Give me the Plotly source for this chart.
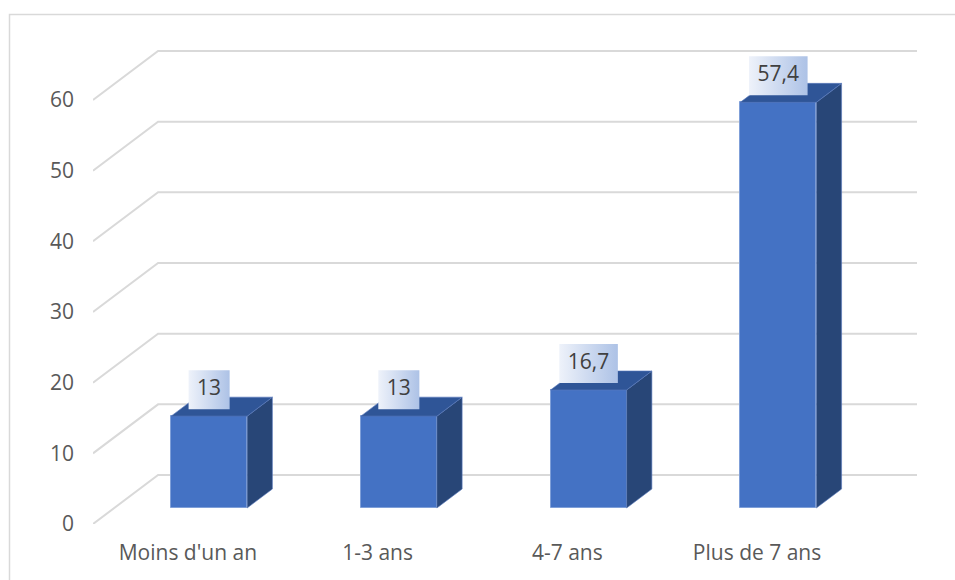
import plotly.graph_objects as go

# Data
categories = ["Moins d'un an", "1-3 ans", "4-7 ans", "Plus de 7 ans"]
values = [13, 13, 16.7, 57.4]
y_ticks = [0, 10, 20, 30, 40, 50, 60]

# Pseudo-3D geometry in axis units
PX_PER_X = 189.5          # pixels per category step
PX_PER_Y = 7.067          # pixels per value unit
WALL_DX = 65 / PX_PER_X   # floor depth, horizontal component
WALL_DY = 49 / PX_PER_Y   # floor depth, vertical component
FRONT = 16 / 49           # depth fraction of the bar front face
BACK = 35 / 49            # depth fraction of the bar back face
BAR_W = 76 / PX_PER_X

FRONT_COLOR = "#4472C4"
TOP_COLOR = "#2F5597"
SIDE_COLOR = "#284677"
GRID_COLOR = "#D9D9D9"
FONT = "Open Sans"

fig = go.Figure()

# Floor-edge diagonals and back-wall gridlines
x_lo, x_hi = -0.5, len(categories) - 0.5
for v in y_ticks:
    fig.add_shape(type="path", xref="x", yref="y", layer="below",
                  path=f"M{x_lo},{v} L{x_lo + WALL_DX},{v + WALL_DY} L{x_hi + WALL_DX},{v + WALL_DY}",
                  line=dict(color=GRID_COLOR, width=2))

fx = FRONT * WALL_DX
fy = FRONT * WALL_DY
bdx = (BACK - FRONT) * WALL_DX
bdy = (BACK - FRONT) * WALL_DY
xs = [i + fx for i in range(len(categories))]

# Front faces
fig.add_trace(go.Bar(x=xs, y=values, base=[fy] * len(values), width=BAR_W,
                     marker=dict(color=FRONT_COLOR, line=dict(color="#7f9fd8", width=1)),
                     hoverinfo="skip", showlegend=False))

# Side and top faces
for x, v in zip(xs, values):
    xl, xr = x - BAR_W / 2, x + BAR_W / 2
    b, t = fy, fy + v
    fig.add_trace(go.Scatter(x=[xr, xr + bdx, xr + bdx, xr, xr], y=[b, b + bdy, t + bdy, t, b],
                             mode="lines", fill="toself", fillcolor=SIDE_COLOR,
                             line=dict(color="#5a7bbd", width=0.6), hoverinfo="skip", showlegend=False))
    fig.add_trace(go.Scatter(x=[xl, xr, xr + bdx, xl + bdx, xl], y=[t, t, t + bdy, t + bdy, t],
                             mode="lines", fill="toself", fillcolor=TOP_COLOR,
                             line=dict(color="#5a7bbd", width=0.6), hoverinfo="skip", showlegend=False))

# Value labels in gradient boxes
for x, v in zip(xs, values):
    label = f"{v:g}".replace(".", ",")
    w_px = 17 + sum(5.5 if c == "," else 12 for c in label)
    w = w_px / PX_PER_X
    y0 = fy + v + 7 / PX_PER_Y
    y1 = y0 + 39 / PX_PER_Y
    fig.add_trace(go.Scatter(x=[x - w / 2, x + w / 2, x + w / 2, x - w / 2, x - w / 2],
                             y=[y0, y0, y1, y1, y0], mode="lines", fill="toself",
                             fillgradient=dict(type="horizontal",
                                               colorscale=[[0, "#eef2fa"], [1, "#adc2e6"]]),
                             line=dict(width=0), hoverinfo="skip", showlegend=False))
    fig.add_trace(go.Scatter(x=[x], y=[(y0 + y1) / 2], mode="text", text=[label],
                             textfont=dict(family=FONT, size=21, color="#404040"),
                             textposition="middle center", hoverinfo="skip", showlegend=False))

# Chart frame
fig.add_shape(type="rect", xref="paper", yref="paper",
              x0=(9.5 - 93) / 824, x1=(965 - 93) / 824,
              y0=(524 - 590) / 474, y1=(524 - 14.5) / 474,
              line=dict(color=GRID_COLOR, width=1.5), layer="below")

fig.update_layout(
    width=955, height=580,
    margin=dict(l=93, r=38, t=50, b=56),
    paper_bgcolor="white", plot_bgcolor="white",
    font=dict(family=FONT, size=21, color="#595959"),
    bargap=0,
    xaxis=dict(range=[x_lo, x_hi + WALL_DX], tickvals=list(range(len(categories))), ticktext=categories,
               showgrid=False, zeroline=False, showline=False, ticks="", ticklabelstandoff=14,
               fixedrange=True),
    yaxis=dict(range=[0, 474 / PX_PER_Y], tickvals=y_ticks, showgrid=False, zeroline=False,
               showline=False, ticks="", ticklabelstandoff=18, fixedrange=True),
)

fig.write_html("out.html")
